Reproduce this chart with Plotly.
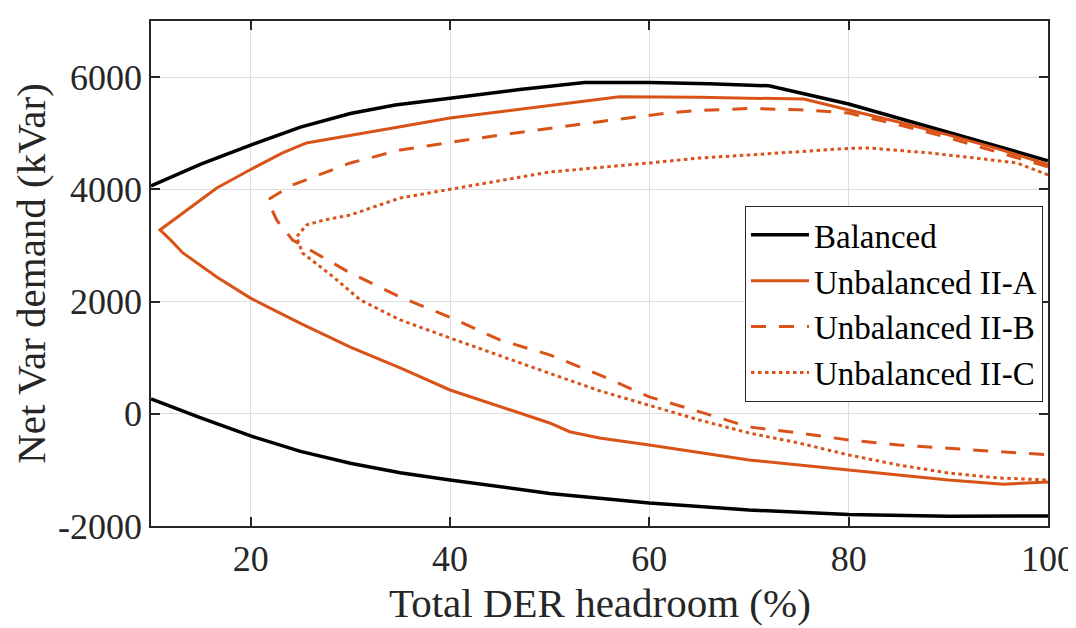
import plotly.graph_objects as go

# Balanced: upper and lower envelopes
bal_up_x = [10, 15, 20, 25, 30, 34.5, 40, 47, 53.5, 60, 66, 72, 80, 90, 100]
bal_up_y = [4060, 4450, 4790, 5110, 5350, 5503, 5625, 5780, 5905, 5905, 5880, 5845, 5521, 5022, 4510]
bal_lo_x = [10, 15, 20, 25, 30, 35, 40, 50, 60, 70, 80, 90, 100]
bal_lo_y = [264, -75, -395, -670, -882, -1050, -1180, -1420, -1590, -1714, -1795, -1825, -1820]

# Unbalanced II-A: upper branch right -> tip, then lower branch tip -> right
iia_x = [100, 95, 90, 85, 80, 75.5, 70, 65, 57, 50, 40, 35, 30, 25.6, 23.2, 19.9, 16.6, 13.2, 10.9,
         12, 13.2, 16.6, 19.9, 21.9, 25, 30, 35, 40, 45, 50, 52, 55, 60, 70, 80, 90, 95.5, 100]
iia_y = [4440, 4720, 4970, 5200, 5414, 5610, 5625, 5640, 5650, 5490, 5270, 5117, 4968, 4826, 4648, 4345, 4024, 3578, 3276,
         3090, 2866, 2438, 2070, 1886, 1610, 1190, 816, 424, 127, -164, -320, -431, -556, -823, -1001, -1180, -1255, -1215]

# Unbalanced II-B
iib_x = [100, 95, 90, 85, 80, 75, 70, 65, 61.8, 55, 45, 40, 35, 30, 24.2, 21.7,
         22.6, 24.2, 26, 30, 35, 40, 45, 50, 55, 60, 65, 70, 75, 80, 85, 90, 95, 100]
iib_y = [4400, 4660, 4920, 5150, 5360, 5420, 5440, 5405, 5360, 5206, 4968, 4835, 4701, 4470, 4078, 3810,
         3454, 3097, 2919, 2509, 2082, 1720, 1316, 1050, 695, 300, 38, -235, -342, -467, -556, -609, -675, -730]

# Unbalanced II-C
iic_x = [100, 96.9, 91.8, 88, 82, 80, 70, 65, 60, 50, 40, 35, 30, 27.3, 25.6, 24.6,
         25.2, 28.3, 31, 35, 40, 45, 50, 55, 60, 65, 70, 75, 80, 85, 90, 95, 100]
iic_y = [4256, 4470, 4576, 4650, 4737, 4730, 4612, 4558, 4470, 4309, 4000, 3846, 3543, 3450, 3365, 3151,
         2866, 2438, 2028, 1672, 1351, 1030, 720, 410, 157, -110, -342, -520, -734, -912, -1055, -1144, -1180]

x_ticks = [20, 40, 60, 80, 100]
y_ticks = [-2000, 0, 2000, 4000, 6000]
y_tick_text = ["-2000", "0", "2000", "4000", "6000"]

ORANGE = "#D95319"
INK = "#262626"
FONT = "Liberation Serif, Times New Roman, serif"

fig = go.Figure()

fig.add_trace(go.Scatter(
    x=bal_up_x + [None] + bal_lo_x,
    y=bal_up_y + [None] + bal_lo_y,
    mode="lines", name="Balanced",
    line=dict(color="black", width=3.5),
))
fig.add_trace(go.Scatter(
    x=iia_x, y=iia_y, mode="lines", name="Unbalanced II-A",
    line=dict(color=ORANGE, width=3),
))
fig.add_trace(go.Scatter(
    x=iib_x, y=iib_y, mode="lines", name="Unbalanced II-B",
    line=dict(color=ORANGE, width=3, dash="15px,13px"),
))
fig.add_trace(go.Scatter(
    x=iic_x, y=iic_y, mode="lines", name="Unbalanced II-C",
    line=dict(color=ORANGE, width=3, dash="3.5px,3.5px"),
))

axis_common = dict(
    showline=True, linecolor=INK, linewidth=1.5, mirror="ticks",
    ticks="inside", ticklen=9, tickwidth=1.5, tickcolor=INK,
    showgrid=True, gridcolor="#dedede", gridwidth=1,
    zeroline=False, automargin=False, ticklabeloverflow="allow",
    tickfont=dict(family=FONT, size=36, color=INK),
)

fig.update_xaxes(range=[10, 100], tickvals=x_ticks, **axis_common)
fig.update_yaxes(
    range=[-2000, 7000], tickvals=y_ticks, ticktext=y_tick_text,
    title=dict(text="Net Var demand (kVar)", font=dict(family=FONT, size=41, color=INK)),
    **axis_common,
)

# x title as an annotation so its height below the axis can be set exactly
fig.add_annotation(
    text="Total DER headroom (%)", xref="paper", yref="paper",
    x=0.5, y=0, xanchor="center", yanchor="top", yshift=-52,
    showarrow=False, font=dict(family=FONT, size=41, color=INK),
)

# the page body adds an 8px margin; the figure runs a little past the window
# edge so the "100" label and the x title are not clipped by the svg
fig.update_layout(
    width=1090, height=640,
    margin=dict(l=143, r=50, t=13, b=122),
    plot_bgcolor="white", paper_bgcolor="white",
    font=dict(family=FONT, color=INK),
    legend=dict(
        x=0.9944, y=0.634, xanchor="right", yanchor="top",
        bgcolor="white", bordercolor=INK, borderwidth=1,
        font=dict(family=FONT, size=33, color="black"),
        itemwidth=58, tracegroupgap=0,
    ),
)

fig.write_html("out.html")
